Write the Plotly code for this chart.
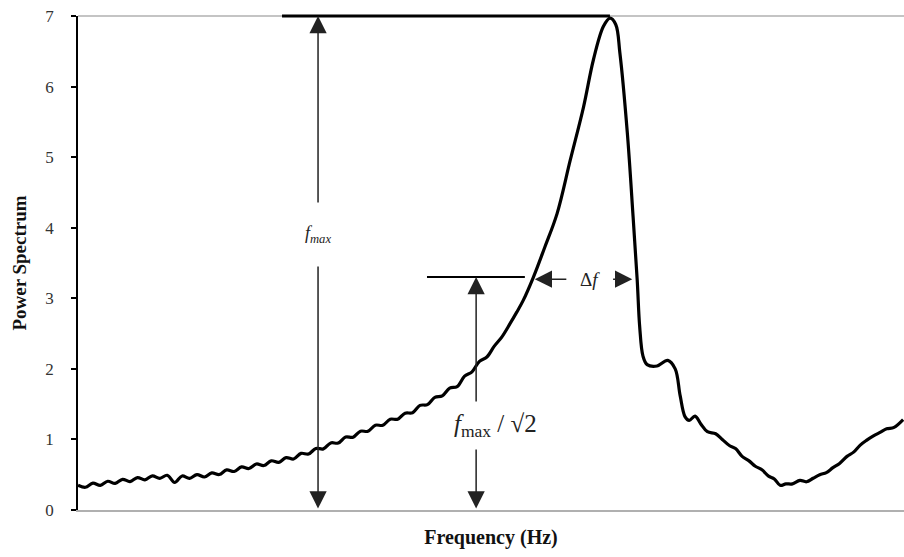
import plotly.graph_objects as go

# ---- data (frequency in arbitrary units 0..100) ----
freq = [0.0, 0.9, 1.8, 2.7, 3.6, 4.5, 5.4, 6.3, 7.2, 8.1, 9.0, 9.9, 10.8, 11.7, 12.6, 13.5,
        14.4, 15.3, 16.2, 17.1, 18.0, 18.9, 19.8, 20.7, 21.6, 22.5, 23.4, 24.3, 25.2, 26.1,
        27.0, 27.9, 28.8, 29.7, 30.6, 31.5, 32.4, 33.3, 34.2, 35.1, 36.0, 36.9, 37.8, 38.7,
        39.6, 40.5, 41.4, 42.3, 43.2, 44.1, 45.0, 45.9, 46.8, 47.7, 48.6, 49.5, 50.4,
        51.3, 52.3, 53.1, 53.9, 55.1, 56.5, 58.0, 59.6, 61.2, 62.4, 63.6, 64.4, 65.1, 65.6,
        66.5, 67.2, 67.7, 68.0, 68.4, 68.9, 70.1, 71.4, 72.3, 72.9, 73.5, 74.0, 74.7, 75.4,
        76.2, 77.2, 78.0, 78.9, 79.6, 80.4, 81.2, 82.0, 82.8, 83.6, 84.3, 85.0, 85.7, 86.5,
        87.4, 88.2, 89.0, 89.8, 90.6, 91.4, 92.2, 93.1, 93.9, 94.7, 95.5, 96.3, 97.1, 97.9,
        98.8, 99.9]
power = [0.352, 0.322, 0.380, 0.349, 0.407, 0.377, 0.435, 0.403, 0.460, 0.428, 0.484, 0.448,
         0.492, 0.39, 0.482, 0.448, 0.502, 0.468, 0.527, 0.503, 0.569, 0.546, 0.611, 0.588,
         0.652, 0.630, 0.697, 0.675, 0.742, 0.722, 0.802, 0.793, 0.872, 0.866, 0.951, 0.948,
         1.034, 1.031, 1.117, 1.115, 1.202, 1.200, 1.287, 1.286, 1.372, 1.378, 1.482, 1.493,
         1.597, 1.618, 1.727, 1.748, 1.897, 1.958, 2.107, 2.168, 2.322,
         2.45, 2.64, 2.80, 2.97, 3.29, 3.72, 4.20, 4.96, 5.71, 6.38, 6.85, 6.97, 6.88, 6.48,
         5.35, 4.16, 3.26, 2.60, 2.18, 2.06, 2.04, 2.12, 2.00, 1.62, 1.32, 1.27, 1.33, 1.22,
         1.11, 1.08, 1.00, 0.91, 0.87, 0.76, 0.70, 0.62, 0.57, 0.48, 0.44, 0.35, 0.37, 0.37,
         0.42, 0.40, 0.45, 0.50, 0.53, 0.60, 0.66, 0.76, 0.82, 0.92, 0.99, 1.05, 1.10, 1.15,
         1.17, 1.28]

y_ticks = [0, 1, 2, 3, 4, 5, 6, 7]

# annotation geometry (data units)
f_max = 7.0
half_level = 3.3
fmax_line_x = [24.7, 64.4]
half_line_x = [42.25, 54.1]
fmax_arrow_x = 29.06
half_arrow_x = 48.2
df_y = 3.27
df_left = [59.3, 55.3]    # tail, tip
df_right = [64.6, 67.1]   # tail, tip
df_text_x = 62.0
fmax_label = (29.06, 3.9)
half_label = (50.5, 1.20)

SERIF = "Liberation Serif"

fig = go.Figure()
fig.add_trace(go.Scatter(x=freq, y=power, mode="lines",
                         line=dict(color="black", width=3.2, shape="spline", smoothing=1.0),
                         showlegend=False, hoverinfo="skip"))

shapes = [
    dict(type="line", xref="paper", yref="paper", x0=0, x1=1, y0=1, y1=1,
         line=dict(color="#b0b0b0", width=1.5), layer="below"),
    dict(type="line", xref="x", yref="paper", x0=fmax_line_x[0], x1=fmax_line_x[1],
         y0=1, y1=1, line=dict(color="black", width=3)),
    dict(type="line", xref="x", yref="y", x0=half_line_x[0], x1=half_line_x[1],
         y0=half_level, y1=half_level, line=dict(color="black", width=2)),
]

arrow_common = dict(showarrow=True, text="", axref="x", ayref="y", xref="x", yref="y",
                    arrowhead=2, arrowsize=2.3, arrowwidth=1.5, arrowcolor="#222",
                    standoff=0, startstandoff=0)
annotations = [
    dict(x=fmax_arrow_x, y=f_max, ax=fmax_arrow_x, ay=0, arrowside="end+start",
         startarrowhead=2, startarrowsize=2.3, **arrow_common),
    dict(x=half_arrow_x, y=half_level, ax=half_arrow_x, ay=0, arrowside="end+start",
         startarrowhead=2, startarrowsize=2.3, **arrow_common),
    dict(x=df_left[1], y=df_y, ax=df_left[0], ay=df_y, **arrow_common),
    dict(x=df_right[1], y=df_y, ax=df_right[0], ay=df_y, **arrow_common),
    dict(x=fmax_label[0], y=fmax_label[1], xref="x", yref="y", showarrow=False,
         text="<i>f<sub>max</sub></i>", font=dict(family=SERIF, size=18, color="#222"),
         bgcolor="white", borderpad=20),
    dict(x=half_label[0], y=half_label[1], xref="x", yref="y", showarrow=False,
         text="<i>f</i><sub>max</sub> / √2", font=dict(family=SERIF, size=25, color="#222"),
         bgcolor="white", borderpad=8),
    dict(x=df_text_x, y=df_y, xref="x", yref="y", showarrow=False,
         text="Δ<i>f</i>", font=dict(family=SERIF, size=19, color="#222")),
]

fig.update_layout(
    width=904, height=557,
    margin=dict(l=78, r=0, t=16, b=47),
    plot_bgcolor="white", paper_bgcolor="white",
    shapes=shapes, annotations=annotations,
    xaxis=dict(range=[0, 100], showgrid=False, zeroline=False, showticklabels=False,
               ticks="", showline=True, linecolor="#b0b0b0", linewidth=1.5,
               title=dict(text="<b>Frequency (Hz)</b>", standoff=19,
                          font=dict(family=SERIF, size=20, color="#111"))),
    yaxis=dict(range=[0, 7], tickvals=y_ticks, showgrid=False, zeroline=False,
               showline=True, linecolor="black", linewidth=1.5,
               ticks="outside", ticklen=5, tickcolor="black", tickwidth=1.5,
               ticklabelstandoff=14,
               tickfont=dict(family=SERIF, size=17, color="#333"),
               title=dict(text="<b>Power Spectrum</b>", standoff=14,
                          font=dict(family=SERIF, size=19, color="#111"))),
)

fig.write_html("out.html")
